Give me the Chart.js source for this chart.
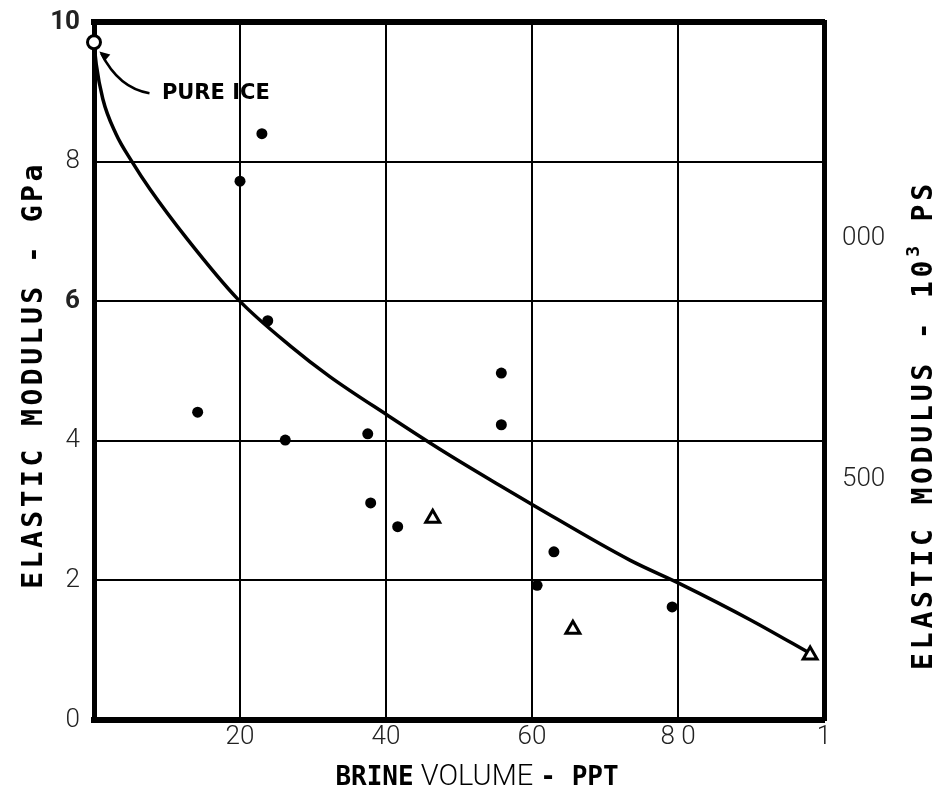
<!DOCTYPE html>
<html lang="en">
<head>
<meta charset="UTF-8">
<title>Elastic Modulus vs Brine Volume</title>
<script src="https://cdn.jsdelivr.net/npm/chart.js"></script>
<style>
  body { margin: 0; background: #fff; }
  canvas { display: block; }
</style>
</head>
<body>
<canvas id="modulusChart" width="946" height="805"></canvas>
<script>
// axis ticks as printed on the figure
const brineTicks = [0, 20, 40, 60, 80, 100];
const brineTickLabels = ['', '20', '40', '60', '8 0', '1'];
const gpaTicks = [0, 2, 4, 6, 8, 10];
const gpaTickLabels = ['0', '2', '4', '6', '8', '10'];
const psiTicks = [500, 1000];
const psiTickLabels = ['500', '000'];

// filled circles
const dotBrine   = [23.0, 20.0, 23.8, 14.2, 26.2, 37.5, 37.9, 41.6, 55.8, 55.8, 60.7, 63.0, 79.2];
const dotModulus = [8.40, 7.72, 5.72, 4.41, 4.01, 4.10, 3.11, 2.77, 4.97, 4.23, 1.93, 2.41, 1.62];

// open triangles
const triBrine   = [46.4, 65.6, 98.1];
const triModulus = [2.89, 1.30, 0.93];

// pure ice (open circle)
const iceBrine   = [0];
const iceModulus = [9.71];

// fitted curve
const curveBrine   = [0, 0.3, 1.2, 3, 5.2, 7.7, 12.7, 19.7, 27, 32.3, 40.3, 48, 55.6, 60.3, 73.4, 80.5, 90, 98.5];
const curveModulus = [9.7, 9.4, 8.9, 8.4, 8.0, 7.6, 6.9, 6.03, 5.35, 4.92, 4.36, 3.84, 3.36, 3.07, 2.29, 1.94, 1.43, 0.93];

const pairs = (xs, ys) => xs.map((x, i) => ({ x: x, y: ys[i] }));

const tickFont = { family: 'Roboto', size: 26, weight: '300' };
const monoBold = 'bold 28px "DejaVu Sans Mono"';

// draws text made of several runs with different fonts, centred on (cx, cy)
function drawRuns(ctx, runs, cx, cy, angle, spacing) {
    ctx.save();
    ctx.translate(cx, cy);
    ctx.rotate(angle);
    ctx.letterSpacing = spacing + 'px';
    ctx.textBaseline = 'middle';
    ctx.textAlign = 'left';
    let total = 0;
    runs.forEach(r => { ctx.font = r.font; total += ctx.measureText(r.text).width; });
    let x = -total / 2;
    runs.forEach(r => {
        ctx.font = r.font;
        ctx.fillText(r.text, x, r.dy || 0);
        x += ctx.measureText(r.text).width;
    });
    ctx.restore();
}

// no extra room for edge labels: the plot box fills the figure as in the scan
function noEdgePadding(s) {
    s.paddingTop = 0; s.paddingBottom = 0;
    s.paddingLeft = 0; s.paddingRight = 0;
}

const labelsPlugin = {
    id: 'figureLabels',
    afterDatasetsDraw(chart) {
        const ctx = chart.ctx;
        const xs = chart.scales.x, ys = chart.scales.y;
        const area = chart.chartArea;
        ctx.save();
        ctx.fillStyle = '#000';
        ctx.strokeStyle = '#000';

        // PURE ICE label and arrow
        ctx.font = 'bold 21px "DejaVu Sans"';
        ctx.textBaseline = 'alphabetic';
        ctx.fillText('PURE ICE', xs.getPixelForValue(9.3), ys.getPixelForValue(8.9));
        const ax0 = xs.getPixelForValue(7.6), ay0 = ys.getPixelForValue(8.98);
        const acx = xs.getPixelForValue(3.4), acy = ys.getPixelForValue(9.05);
        const ax1 = xs.getPixelForValue(1.0), ay1 = ys.getPixelForValue(9.55);
        ctx.lineWidth = 2.5;
        ctx.beginPath();
        ctx.moveTo(ax0, ay0);
        ctx.quadraticCurveTo(acx, acy, ax1, ay1);
        ctx.stroke();
        ctx.beginPath();
        ctx.moveTo(ax1 - 2, ay1 - 2);
        ctx.lineTo(ax1 + 9, ay1 + 1);
        ctx.lineTo(ax1 + 3, ay1 + 8);
        ctx.closePath();
        ctx.fill();

        // left axis title
        drawRuns(ctx, [{ text: 'ELASTIC MODULUS - GPa', font: monoBold }],
            35, 375, -Math.PI / 2, 3.5);

        // right axis title (also reads bottom to top)
        drawRuns(ctx, [
            { text: 'ELASTIC MODULUS - 10', font: monoBold },
            { text: '3', font: 'bold 18px "DejaVu Sans Mono"', dy: -11 },
            { text: ' PS', font: monoBold }
        ], area.right + 101, 425, -Math.PI / 2, 3.8);

        // bottom axis title, mixed weights as on the figure
        drawRuns(ctx, [
            { text: 'BRINE', font: 'bold 26px "DejaVu Sans Mono"' },
            { text: ' VOLUME ', font: '300 29px Roboto' },
            { text: '- PPT', font: 'bold 26px "DejaVu Sans Mono"' }
        ], (area.left + area.right) / 2 + 18, 778, 0, 0);
        ctx.restore();
    }
};

new Chart(document.getElementById('modulusChart'), {
    type: 'scatter',
    data: {
        datasets: [
            {
                type: 'line',
                data: pairs(curveBrine, curveModulus),
                borderColor: '#000',
                borderWidth: 3.5,
                pointRadius: 0,
                cubicInterpolationMode: 'monotone',
                fill: false,
                order: 3
            },
            {
                data: pairs(dotBrine, dotModulus),
                pointStyle: 'circle',
                pointRadius: 5.5,
                backgroundColor: '#000',
                borderColor: '#000',
                borderWidth: 0,
                order: 1
            },
            {
                data: pairs(triBrine, triModulus),
                pointStyle: 'triangle',
                pointRadius: 8,
                backgroundColor: '#fff',
                borderColor: '#000',
                borderWidth: 3,
                clip: false,
                order: 1
            },
            {
                data: pairs(iceBrine, iceModulus),
                pointStyle: 'circle',
                pointRadius: 6.5,
                backgroundColor: '#fff',
                borderColor: '#000',
                borderWidth: 3,
                clip: false,
                order: 0
            }
        ]
    },
    options: {
        responsive: false,
        animation: false,
        devicePixelRatio: 1,
        layout: { padding: 0 },
        plugins: { legend: { display: false }, tooltip: { enabled: false } },
        scales: {
            x: {
                type: 'linear',
                position: 'bottom',
                min: 0, max: 100,
                afterBuildTicks: s => { s.ticks = brineTicks.map(v => ({ value: v })); },
                afterFit: s => { s.height = 85; noEdgePadding(s); },
                border: { color: '#000', width: 6 },
                grid: { color: '#000', lineWidth: 2, drawTicks: false },
                ticks: {
                    color: '#222', font: tickFont, padding: 2, maxRotation: 0, autoSkip: false,
                    callback: v => brineTickLabels[brineTicks.indexOf(v)]
                }
            },
            xTop: {
                type: 'linear',
                position: 'top',
                min: 0, max: 100,
                afterFit: s => { s.height = 22; noEdgePadding(s); },
                border: { color: '#000', width: 6 },
                grid: { display: false, drawTicks: false },
                ticks: { display: false }
            },
            y: {
                type: 'linear',
                position: 'left',
                min: 0, max: 10,
                afterBuildTicks: s => { s.ticks = gpaTicks.map(v => ({ value: v })); },
                afterFit: s => { s.width = 94; noEdgePadding(s); },
                border: { color: '#000', width: 5 },
                grid: { color: '#000', lineWidth: 2, drawTicks: false },
                ticks: {
                    color: '#222', padding: 14,
                    font: c => ({
                        family: 'Roboto', size: 26,
                        weight: c.tick && (c.tick.value === 6 || c.tick.value === 10) ? 'bold' : '300'
                    }),
                    callback: v => gpaTickLabels[gpaTicks.indexOf(v)]
                }
            },
            psi: {
                type: 'linear',
                position: 'right',
                min: 0, max: 1450,
                afterBuildTicks: s => { s.ticks = psiTicks.map(v => ({ value: v })); },
                afterFit: s => { s.width = 122; noEdgePadding(s); },
                border: { color: '#000', width: 5 },
                grid: { display: false, drawTicks: false },
                ticks: {
                    color: '#222', font: tickFont, padding: 18,
                    callback: v => psiTickLabels[psiTicks.indexOf(v)]
                }
            }
        }
    },
    plugins: [labelsPlugin]
});
</script>
</body>
</html>
